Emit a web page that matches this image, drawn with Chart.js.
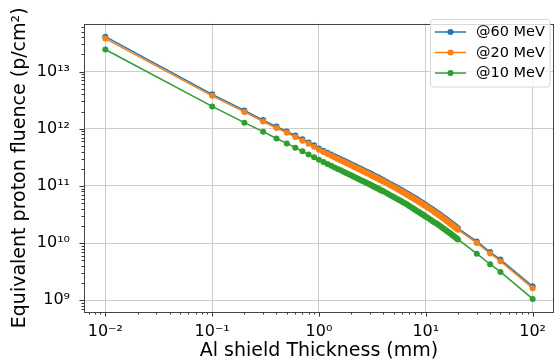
<!DOCTYPE html>
<html>
<head>
<meta charset="utf-8">
<script src="https://cdn.jsdelivr.net/npm/chart.js@4.4.1/dist/chart.umd.min.js"></script>
<style>
html, body { margin: 0; padding: 0; background: #fff; }
#wrap { width: 558px; height: 362px; }
</style>
</head>
<body>
<div id="wrap"><canvas id="fluenceChart" width="558" height="362"></canvas></div>
<script>
// Al shield thickness (mm)
const thickness = [0.01, 0.1, 0.2, 0.3, 0.4, 0.5, 0.6, 0.7, 0.8, 0.9,
  1.0, 1.1, 1.2, 1.3, 1.4, 1.5, 1.6, 1.7, 1.8, 1.9,
  2.0, 2.1, 2.2, 2.3, 2.4, 2.5, 2.6, 2.7, 2.8, 2.9,
  3.0, 3.1, 3.2, 3.3, 3.4, 3.5, 3.6, 3.7, 3.8, 3.9,
  4.0, 4.25, 4.5, 4.75, 5, 5.25, 5.5, 5.75, 6, 6.25,
  6.5, 6.75, 7, 7.25, 7.5, 7.75, 8, 8.25, 8.5, 8.75,
  9, 9.25, 9.5, 9.75, 10, 10.5, 11, 11.5, 12, 12.5,
  13, 13.5, 14, 14.5, 15, 15.5, 16, 16.5, 17, 17.5,
  18, 18.5, 19, 19.5, 20, 30, 40, 50, 100];

// equivalent proton fluence (p/cm2)
const fluence60 = [4.07e13, 4.00e12, 2.09e12, 1.42e12, 1.09e12, 9.00e11, 7.63e11, 6.57e11, 5.78e11, 5.14e11,
  4.50e11, 4.13e11, 3.81e11, 3.54e11, 3.31e11, 3.11e11, 2.94e11, 2.78e11, 2.65e11, 2.51e11,
  2.40e11, 2.30e11, 2.21e11, 2.11e11, 2.04e11, 1.96e11, 1.89e11, 1.83e11, 1.76e11, 1.71e11,
  1.66e11, 1.61e11, 1.55e11, 1.51e11, 1.47e11, 1.43e11, 1.40e11, 1.35e11, 1.32e11, 1.29e11,
  1.26e11, 1.19e11, 1.12e11, 1.06e11, 1.005e11, 9.56e10, 9.10e10, 8.69e10, 8.31e10, 7.95e10,
  7.62e10, 7.32e10, 7.02e10, 6.75e10, 6.50e10, 6.27e10, 6.04e10, 5.83e10, 5.63e10, 5.45e10,
  5.26e10, 5.09e10, 4.94e10, 4.79e10, 4.64e10, 4.37e10, 4.13e10, 3.90e10, 3.69e10, 3.50e10,
  3.33e10, 3.16e10, 3.01e10, 2.87e10, 2.74e10, 2.61e10, 2.51e10, 2.39e10, 2.30e10, 2.21e10,
  2.11e10, 2.03e10, 1.95e10, 1.88e10, 1.81e10, 1.07e10, 7.0e9, 5.15e9, 1.76e9];
const fluence20 = [3.77e13, 3.76e12, 1.97e12, 1.34e12, 1.03e12, 8.50e11, 7.20e11, 6.20e11, 5.45e11, 4.85e11,
  4.29e11, 3.93e11, 3.63e11, 3.37e11, 3.15e11, 2.96e11, 2.80e11, 2.65e11, 2.52e11, 2.39e11,
  2.29e11, 2.19e11, 2.10e11, 2.01e11, 1.94e11, 1.87e11, 1.80e11, 1.74e11, 1.68e11, 1.63e11,
  1.58e11, 1.53e11, 1.48e11, 1.44e11, 1.40e11, 1.36e11, 1.33e11, 1.29e11, 1.26e11, 1.23e11,
  1.20e11, 1.13e11, 1.07e11, 1.01e11, 9.57e10, 9.10e10, 8.67e10, 8.28e10, 7.91e10, 7.57e10,
  7.26e10, 6.97e10, 6.69e10, 6.43e10, 6.19e10, 5.97e10, 5.75e10, 5.55e10, 5.36e10, 5.19e10,
  5.01e10, 4.85e10, 4.70e10, 4.56e10, 4.42e10, 4.16e10, 3.93e10, 3.71e10, 3.51e10, 3.33e10,
  3.17e10, 3.01e10, 2.87e10, 2.73e10, 2.61e10, 2.49e10, 2.39e10, 2.28e10, 2.19e10, 2.10e10,
  2.01e10, 1.93e10, 1.86e10, 1.79e10, 1.72e10, 1.01e10, 6.60e9, 4.84e9, 1.63e9];
const fluence10 = [2.43e13, 2.46e12, 1.28e12, 8.90e11, 6.76e11, 5.55e11, 4.67e11, 4.05e11, 3.56e11, 3.17e11,
  2.88e11, 2.63e11, 2.43e11, 2.26e11, 2.11e11, 1.98e11, 1.88e11, 1.78e11, 1.69e11, 1.60e11,
  1.54e11, 1.47e11, 1.41e11, 1.35e11, 1.30e11, 1.25e11, 1.21e11, 1.17e11, 1.13e11, 1.09e11,
  1.06e11, 1.03e11, 9.92e10, 9.65e10, 9.38e10, 9.11e10, 8.91e10, 8.64e10, 8.44e10, 8.24e10,
  8.04e10, 7.57e10, 7.17e10, 6.77e10, 6.41e10, 6.10e10, 5.81e10, 5.55e10, 5.30e10, 5.07e10,
  4.86e10, 4.67e10, 4.48e10, 4.30e10, 4.12e10, 3.96e10, 3.80e10, 3.66e10, 3.54e10, 3.42e10,
  3.31e10, 3.20e10, 3.10e10, 3.01e10, 2.90e10, 2.74e10, 2.59e10, 2.45e10, 2.33e10, 2.22e10,
  2.12e10, 2.02e10, 1.92e10, 1.83e10, 1.75e10, 1.67e10, 1.60e10, 1.53e10, 1.47e10, 1.41e10,
  1.35e10, 1.30e10, 1.25e10, 1.20e10, 1.16e10, 6.55e9, 4.28e9, 3.14e9, 1.06e9];

const seriesNames = ["@60 MeV", "@20 MeV", "@10 MeV"];
const seriesColors = ["#1f77b4", "#ff7f0e", "#2ca02c"];

const xTickValues = [0.01, 0.1, 1, 10, 100];
const xTickLabels = ["10⁻²", "10⁻¹", "10⁰", "10¹", "10²"];
const yTickValues = [1e9, 1e10, 1e11, 1e12, 1e13];
const yTickLabels = ["10⁹", "10¹⁰", "10¹¹", "10¹²", "10¹³"];

const FONT = "'DejaVu Sans', 'Liberation Sans', sans-serif";

// major + minor log ticks inside [min, max]
function logTicks(min, max) {
  const out = [];
  for (let e = Math.floor(Math.log10(min)); e <= Math.ceil(Math.log10(max)); e++) {
    for (let m = 1; m < 10; m++) {
      const v = m * Math.pow(10, e);
      if (v >= min && v <= max) out.push({ value: v, major: m === 1 });
    }
  }
  return out;
}

function tickLabel(values, labels, v) {
  const i = values.findIndex(t => Math.abs(Math.log10(t) - Math.log10(v)) < 1e-6);
  return i < 0 ? "" : labels[i];
}

// 边框 + 刻度线 + 图例
const frameAndTicks = {
  id: "frameAndTicks",
  afterDatasetsDraw(chart) {
    const { ctx, chartArea: a, scales } = chart;
    ctx.save();
    ctx.strokeStyle = "#333";
    ctx.lineWidth = 1;
    ctx.beginPath();
    scales.x.ticks.forEach(t => {
      const px = Math.round(scales.x.getPixelForValue(t.value)) + 0.5;
      ctx.moveTo(px, a.bottom);
      ctx.lineTo(px, a.bottom + (t.major ? 4.5 : 2.5));
    });
    scales.y.ticks.forEach(t => {
      const py = Math.round(scales.y.getPixelForValue(t.value)) + 0.5;
      ctx.moveTo(a.left, py);
      ctx.lineTo(a.left - (t.major ? 4.5 : 2.5), py);
    });
    ctx.stroke();
    ctx.strokeStyle = "#444";
    ctx.strokeRect(Math.round(a.left) + 0.5, Math.round(a.top) + 0.5,
      Math.round(a.right - a.left) - 1, Math.round(a.bottom - a.top));
    ctx.restore();
  },
  afterDraw(chart) {
    const ctx = chart.ctx;
    const bx = 430.5, by = 19.5, bw = 119.5, bh = 67.5, rowH = 20.5;
    ctx.save();
    ctx.beginPath();
    ctx.roundRect(bx, by, bw, bh, 3);
    ctx.fillStyle = "rgba(255,255,255,0.8)";
    ctx.fill();
    ctx.strokeStyle = "#d6d6d6";
    ctx.lineWidth = 1;
    ctx.stroke();
    ctx.font = "14.5px " + FONT;
    ctx.textBaseline = "middle";
    chart.data.datasets.forEach((ds, i) => {
      const y = by + 12.5 + i * rowH;
      ctx.strokeStyle = ds.borderColor;
      ctx.lineWidth = 1.5;
      ctx.beginPath();
      ctx.moveTo(435, y);
      ctx.lineTo(466, y);
      ctx.stroke();
      ctx.fillStyle = ds.borderColor;
      ctx.beginPath();
      ctx.arc(450.5, y, 3, 0, Math.PI * 2);
      ctx.fill();
      ctx.fillStyle = "#000";
      ctx.fillText(ds.label, 476, y + 0.5);
    });
    ctx.restore();
  }
};

const seriesData = [fluence60, fluence20, fluence10];

new Chart(document.getElementById("fluenceChart"), {
  type: "line",
  data: {
    datasets: seriesData.map((vals, i) => ({
      label: seriesNames[i],
      data: thickness.map((x, j) => ({ x: x, y: vals[j] })),
      borderColor: seriesColors[i],
      backgroundColor: seriesColors[i],
      pointBackgroundColor: seriesColors[i],
      pointBorderWidth: 0,
      pointRadius: 3,
      borderWidth: 1.5,
      fill: false,
      tension: 0,
      order: 3 - i
    }))
  },
  options: {
    responsive: false,
    animation: false,
    devicePixelRatio: 1,
    layout: { padding: { top: 13, right: 1, left: 0, bottom: 0 } },
    plugins: { legend: { display: false }, tooltip: { enabled: false } },
    scales: {
      x: {
        type: "logarithmic",
        min: 0.00631,
        max: 158.5,
        afterBuildTicks: s => { s.ticks = logTicks(s.min, s.max); },
        afterFit: s => { s.height = 50; },
        ticks: {
          autoSkip: false, maxRotation: 0, padding: 10, color: "#000",
          font: { family: FONT, size: 16 },
          callback: v => tickLabel(xTickValues, xTickLabels, v)
        },
        grid: {
          drawTicks: false, lineWidth: 1,
          color: c => (c.tick && c.tick.major ? "#cccccc" : "rgba(0,0,0,0)")
        },
        border: { display: false },
        title: {
          display: true, text: "Al shield Thickness (mm)", color: "#000",
          font: { family: FONT, size: 19 }, padding: { top: 0, bottom: 0 }
        }
      },
      y: {
        type: "logarithmic",
        min: 6.25e8,
        max: 6.9e13,
        afterBuildTicks: s => { s.ticks = logTicks(s.min, s.max); },
        afterFit: s => { s.width = 84; },
        ticks: {
          autoSkip: false, padding: 14, color: "#000",
          font: { family: FONT, size: 16 },
          callback: v => tickLabel(yTickValues, yTickLabels, v)
        },
        grid: {
          drawTicks: false, lineWidth: 1,
          color: c => (c.tick && c.tick.major ? "#cccccc" : "rgba(0,0,0,0)")
        },
        border: { display: false },
        title: {
          display: true, text: "Equivalent proton fluence (p/cm²)", color: "#000",
          font: { family: FONT, size: 19 }, padding: { top: 9, bottom: 0 }
        }
      }
    }
  },
  plugins: [frameAndTicks]
});
</script>
</body>
</html>
